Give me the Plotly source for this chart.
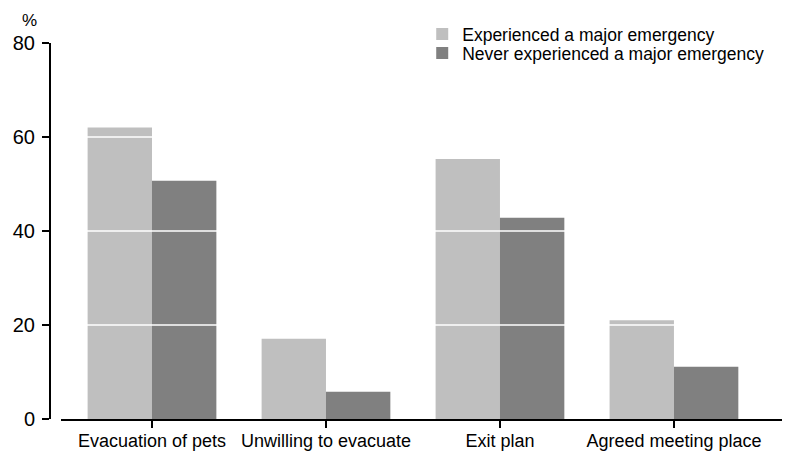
import plotly.graph_objects as go

categories = ["Evacuation of pets", "Unwilling to evacuate", "Exit plan", "Agreed meeting place"]
experienced = [62.0, 17.1, 55.3, 21.0]
never_experienced = [50.7, 5.8, 42.8, 11.1]
series_names = ["Experienced a major emergency", "Never experienced a major emergency"]
y_ticks = [0, 20, 40, 60, 80]

FONT = "Liberation Sans"
# the page body adds an 8px offset, so the figure is 8px smaller than the window
W, H = 782, 444
ML, MR, MT, MB = 42, 0, 35, 33
plot_w = W - ML - MR
plot_h = H - MT - MB

fig = go.Figure()
fig.add_trace(go.Bar(x=categories, y=experienced, name=series_names[0], legend="legend",
                     marker=dict(color="#bfbfbf", line=dict(width=0))))
fig.add_trace(go.Bar(x=categories, y=never_experienced, name=series_names[1], legend="legend2",
                     marker=dict(color="#808080", line=dict(width=0))))

# white gridlines drawn above the bars
for t in y_ticks[1:-1]:
    fig.add_shape(type="line", xref="paper", yref="y", x0=11 / plot_w, x1=1, y0=t, y1=t,
                  line=dict(color="white", width=1.5), layer="above")

leg_common = dict(xanchor="left", yanchor="middle", bgcolor="rgba(0,0,0,0)",
                  font=dict(size=17.5, family=FONT), itemwidth=30)
fig.update_layout(
    width=W, height=H,
    margin=dict(l=ML, r=MR, t=MT, b=MB, autoexpand=False),
    plot_bgcolor="white", paper_bgcolor="white",
    barmode="group", bargap=0.26, bargroupgap=0,
    font=dict(family=FONT, color="black"),
    showlegend=True,
    legend=dict(x=0.503, y=1 + 9 / plot_h, **leg_common),
    legend2=dict(x=0.503, y=1 - 10 / plot_h, **leg_common),
    xaxis=dict(domain=[11 / plot_w, 1], range=[-0.523, 3.667], automargin=False,
               showline=True, linecolor="black", linewidth=2,
               ticks="outside", ticklen=7, tickwidth=1.5, tickcolor="black",
               ticklabelstandoff=-3,
               tickfont=dict(size=18, family=FONT), showgrid=False, zeroline=False),
    yaxis=dict(anchor="free", position=0, range=[0, 80], tickvals=y_ticks, automargin=False,
               showline=True, linecolor="black", linewidth=2,
               ticks="outside", ticklen=7, tickwidth=1.5, tickcolor="black",
               ticklabelstandoff=3,
               tickfont=dict(size=20, family=FONT), showgrid=False, zeroline=False),
    annotations=[dict(text="%", xref="paper", yref="paper", x=-21 / plot_w, y=1.0, yshift=11,
                      xanchor="center", yanchor="bottom", showarrow=False,
                      font=dict(size=17, family=FONT))],
)

fig.write_html("out.html")
